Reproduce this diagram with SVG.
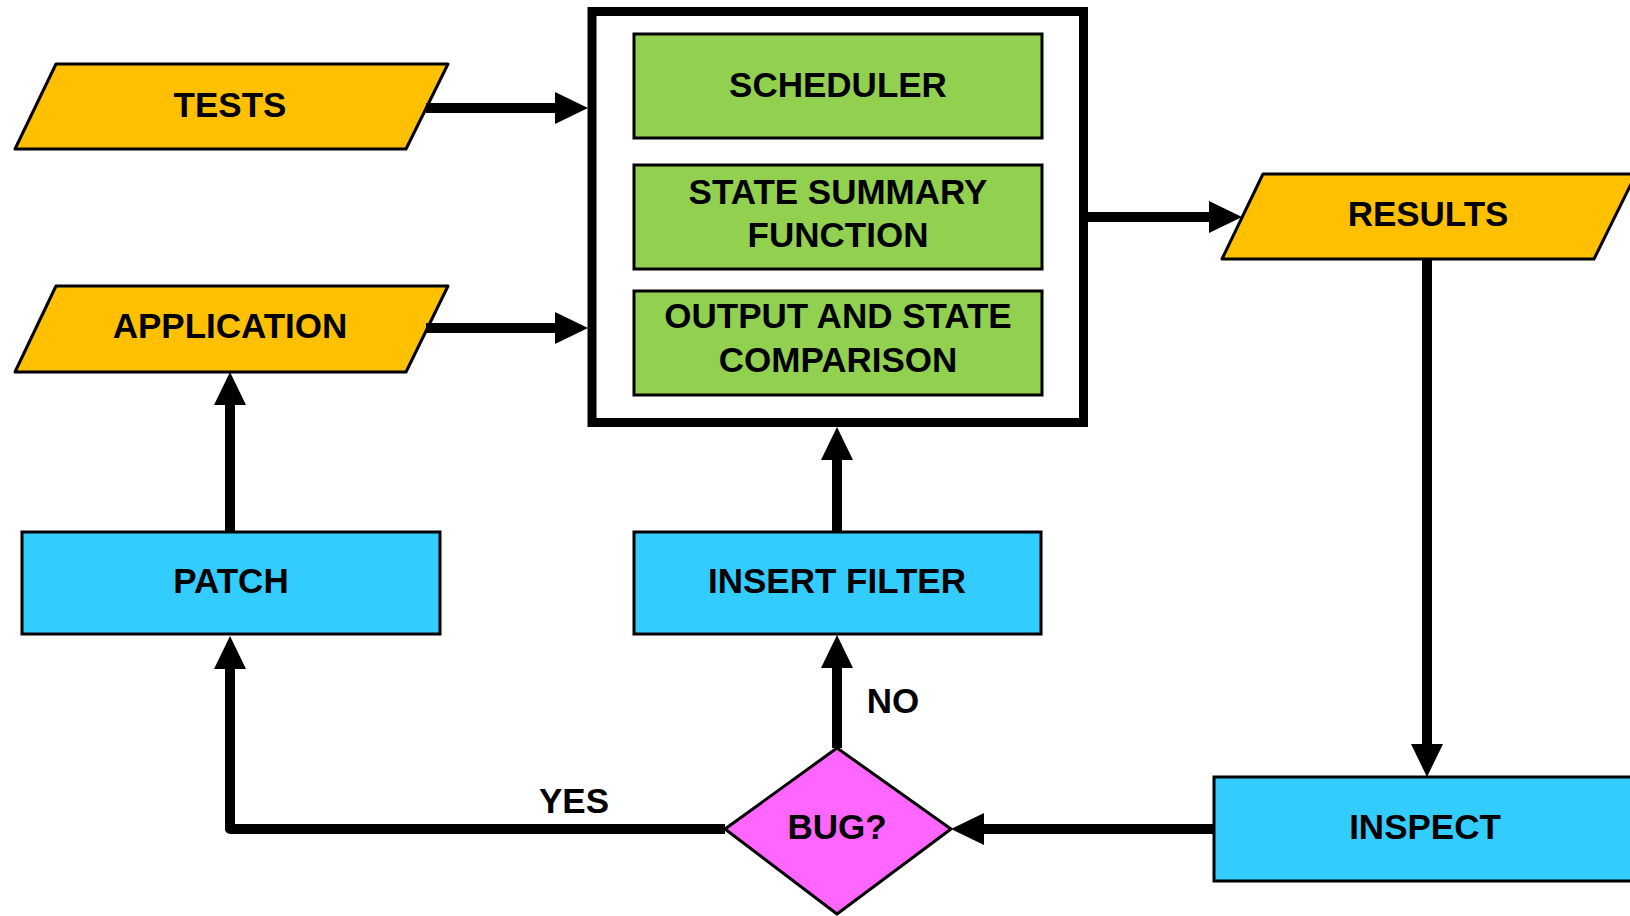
<svg xmlns="http://www.w3.org/2000/svg" width="1630" height="916" viewBox="0 0 1630 916">
<style>
.t{font-family:"Liberation Sans",Arial,sans-serif;font-weight:bold;font-size:35px;fill:#000;text-anchor:middle}
.io{fill:#FFC000;stroke:#000;stroke-width:3;stroke-linejoin:round}
.g{fill:#92D050;stroke:#000;stroke-width:3}
.b{fill:#33CCFF;stroke:#000;stroke-width:3}
.d{fill:#FF66FF;stroke:#000;stroke-width:3;stroke-linejoin:round}
.c{fill:none;stroke:#000;stroke-width:10;stroke-linejoin:round}
</style>
<defs>
<marker id="ah" markerUnits="userSpaceOnUse" markerWidth="33" markerHeight="33" refX="0" refY="16" orient="auto" overflow="visible">
<path d="M-1,0 L32,16 L-1,32 Z" fill="#000"/>
</marker>
</defs>
<rect width="1630" height="916" fill="#fff"/>

<g id="tests">
<polygon class="io" points="56,64 448,64 406,149 15,149"/>
<text class="t" x="230" y="117">TESTS</text>
</g>
<g id="application">
<polygon class="io" points="56,286 448,286 406,372 15,372"/>
<text class="t" x="230" y="338">APPLICATION</text>
</g>
<g id="system">
<rect x="592" y="11.5" width="491.5" height="411" fill="#fff" stroke="#000" stroke-width="9"/>
</g>
<g id="scheduler">
<rect class="g" x="634" y="34" width="408" height="104"/>
<text class="t" x="838" y="97">SCHEDULER</text>
</g>
<g id="state-summary">
<rect class="g" x="634" y="165" width="408" height="104"/>
<text class="t" x="838" y="204">STATE SUMMARY</text>
<text class="t" x="838" y="247">FUNCTION</text>
</g>
<g id="comparison">
<rect class="g" x="634" y="291" width="408" height="104"/>
<text class="t" x="838" y="328">OUTPUT AND STATE</text>
<text class="t" x="838" y="372">COMPARISON</text>
</g>
<g id="results">
<polygon class="io" points="1263,174 1636,174 1594,259 1222,259"/>
<text class="t" x="1428" y="226">RESULTS</text>
</g>
<g id="patch">
<rect class="b" x="22" y="532" width="418" height="102"/>
<text class="t" x="231" y="593">PATCH</text>
</g>
<g id="insert-filter">
<rect class="b" x="634" y="532" width="407" height="102"/>
<text class="t" x="837" y="593">INSERT FILTER</text>
</g>
<g id="inspect">
<rect class="b" x="1214" y="777" width="430" height="104"/>
<text class="t" x="1425" y="839">INSPECT</text>
</g>
<g id="bug">
<polygon class="d" points="837,748 951,829 837,914 725,829"/>
<text class="t" x="837" y="839">BUG?</text>
</g>

<g id="connectors">
<path class="c" d="M426,108 H556" marker-end="url(#ah)"/>
<path class="c" d="M426,328 H556" marker-end="url(#ah)"/>
<path class="c" d="M1088,217 H1210" marker-end="url(#ah)"/>
<path class="c" d="M1427,259 V745" marker-end="url(#ah)"/>
<path class="c" d="M1214,829 H983" marker-end="url(#ah)"/>
<path class="c" d="M725,829 H230 V668" marker-end="url(#ah)"/>
<path class="c" d="M837,748 V667" marker-end="url(#ah)"/>
<path class="c" d="M837,532 V459" marker-end="url(#ah)"/>
<path class="c" d="M230,532 V404" marker-end="url(#ah)"/>
<text class="t" x="574" y="813">YES</text>
<text class="t" x="893" y="713">NO</text>
</g>
</svg>
